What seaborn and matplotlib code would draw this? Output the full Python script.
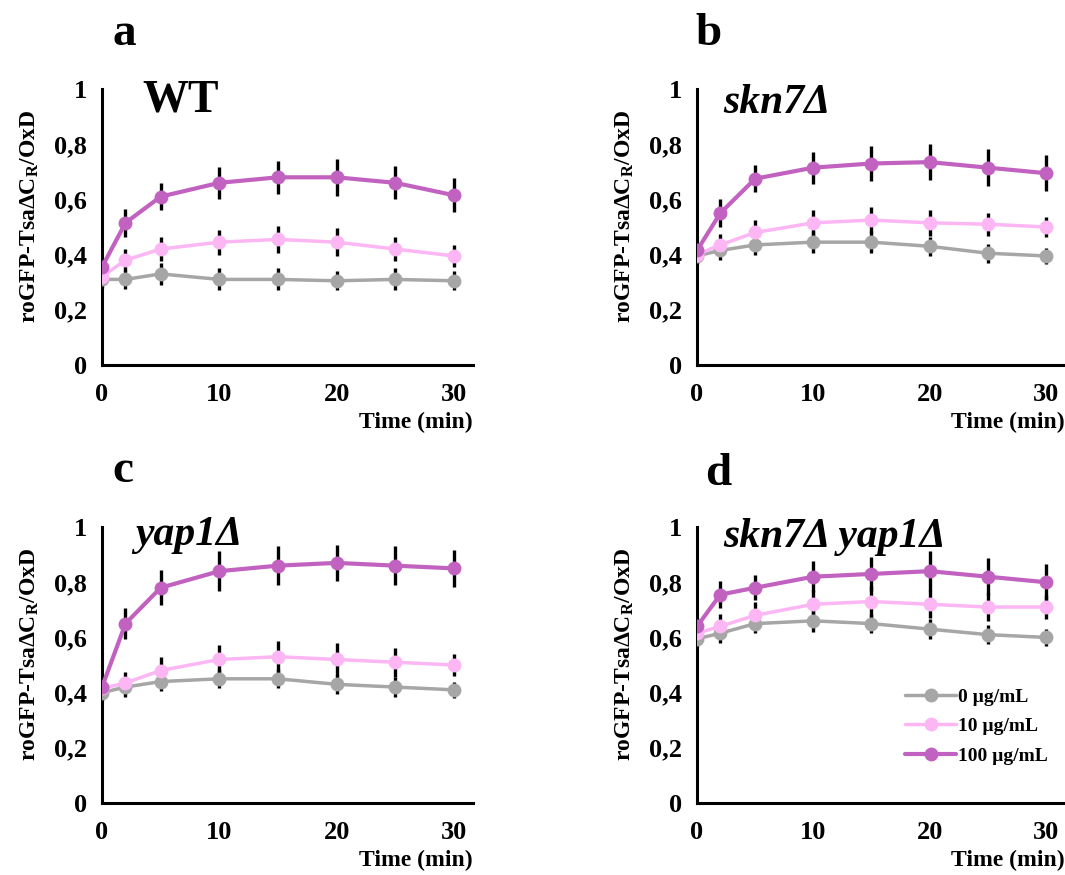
import matplotlib
matplotlib.use("Agg")
import matplotlib.pyplot as plt
import seaborn as sns
import pandas as pd

# Tiempos (min)
times = [0, 2, 5, 10, 15, 20, 25, 30]
doses = ["0 µg/mL", "10 µg/mL", "100 µg/mL"]
colors = ["#a6a6a6", "#fbb6f3", "#c262c0"]

# WT
wt_mean = [
    [0.31, 0.31, 0.33, 0.31, 0.31, 0.305, 0.31, 0.305],
    [0.32, 0.38, 0.42, 0.445, 0.455, 0.445, 0.42, 0.395],
    [0.355, 0.515, 0.61, 0.66, 0.68, 0.68, 0.66, 0.615],
]
wt_err = [
    [0.03, 0.035, 0.04, 0.04, 0.04, 0.035, 0.04, 0.035],
    [0.03, 0.04, 0.045, 0.045, 0.05, 0.05, 0.045, 0.04],
    [0.03, 0.05, 0.05, 0.058, 0.06, 0.068, 0.06, 0.062],
]
# skn7Δ
skn7_mean = [
    [0.395, 0.415, 0.435, 0.445, 0.445, 0.43, 0.405, 0.395],
    [0.40, 0.435, 0.48, 0.515, 0.525, 0.515, 0.51, 0.50],
    [0.415, 0.55, 0.675, 0.715, 0.73, 0.735, 0.715, 0.695],
]
skn7_err = [
    [0.03, 0.035, 0.035, 0.04, 0.04, 0.035, 0.035, 0.03],
    [0.03, 0.04, 0.045, 0.048, 0.048, 0.046, 0.042, 0.036],
    [0.03, 0.05, 0.05, 0.058, 0.065, 0.065, 0.068, 0.066],
]
# yap1Δ
yap1_mean = [
    [0.40, 0.42, 0.44, 0.45, 0.45, 0.43, 0.42, 0.41],
    [0.415, 0.435, 0.48, 0.52, 0.53, 0.52, 0.51, 0.50],
    [0.42, 0.65, 0.78, 0.84, 0.86, 0.87, 0.86, 0.85],
]
yap1_err = [
    [0.03, 0.035, 0.035, 0.035, 0.035, 0.035, 0.035, 0.03],
    [0.03, 0.04, 0.05, 0.052, 0.058, 0.06, 0.052, 0.04],
    [0.03, 0.057, 0.063, 0.073, 0.07, 0.066, 0.07, 0.066],
]
# skn7Δ yap1Δ
double_mean = [
    [0.595, 0.615, 0.65, 0.66, 0.65, 0.63, 0.61, 0.60],
    [0.615, 0.64, 0.68, 0.72, 0.73, 0.72, 0.71, 0.71],
    [0.64, 0.755, 0.78, 0.82, 0.83, 0.84, 0.82, 0.80],
]
double_err = [
    [0.03, 0.035, 0.035, 0.04, 0.035, 0.035, 0.035, 0.03],
    [0.03, 0.045, 0.05, 0.05, 0.055, 0.05, 0.05, 0.045],
    [0.03, 0.05, 0.045, 0.057, 0.062, 0.072, 0.066, 0.066],
]

panels = [
    ("a", "WT", "normal", wt_mean, wt_err),
    ("b", "skn7Δ", "italic", skn7_mean, skn7_err),
    ("c", "yap1Δ", "italic", yap1_mean, yap1_err),
    ("d", "skn7Δ yap1Δ", "italic", double_mean, double_err),
]

sns.set_theme(style="white")
plt.rcParams["font.family"] = ["Liberation Serif", "DejaVu Serif"]
plt.rcParams["font.weight"] = "bold"
plt.rcParams["text.color"] = "black"
plt.rcParams["axes.labelcolor"] = "black"
plt.rcParams["xtick.color"] = "black"
plt.rcParams["ytick.color"] = "black"
plt.rcParams["mathtext.fontset"] = "custom"
plt.rcParams["mathtext.rm"] = "Liberation Serif:bold"
plt.rcParams["mathtext.it"] = "Liberation Serif:bold"
plt.rcParams["mathtext.bf"] = "Liberation Serif:bold"

fig = plt.figure(figsize=(10.65, 8.75), dpi=100)

# posiciones de los ejes (fracción de figura)
pos = [
    [0.0958, 0.5829, 0.348, 0.3154],
    [0.6545, 0.5829, 0.345, 0.3154],
    [0.0958, 0.0823, 0.348, 0.3154],
    [0.6545, 0.0823, 0.345, 0.3154],
]
letter_pos = [(112, 45), (695, 45), (112, 482), (705, 485)]
name_pos = [(142, 100), (723, 103), (135, 535), (723, 537)]

for i, (letter, name, style, means, errs) in enumerate(panels):
    ax = fig.add_axes(pos[i])
    for j, dose in enumerate(doses):
        df = pd.DataFrame({"time": times, "value": means[j], "err": errs[j]})
        ax.errorbar(df["time"], df["value"], yerr=df["err"], fmt="none",
                    ecolor="black", elinewidth=2.4, capsize=0, zorder=1)
    for j, dose in enumerate(doses):
        df = pd.DataFrame({"time": times, "value": means[j]})
        sns.lineplot(data=df, x="time", y="value", ax=ax, color=colors[j],
                     marker="o", markersize=10, markeredgewidth=0,
                     linewidth=3 if j == 2 else 2.5, label=dose, zorder=3 + j)

    ax.set_xlim(0, 31.6)
    ax.set_ylim(0, 1)
    ax.set_xticks([0, 10, 20, 30])
    ax.set_yticks([0, 0.2, 0.4, 0.6, 0.8, 1])
    ax.set_yticklabels(["0", "0,2", "0,4", "0,6", "0,8", "1"])
    ax.tick_params(axis="both", labelsize=19, length=6, width=2,
                   direction="out", color="black", pad=5)
    ax.tick_params(axis="x", pad=7)
    for t in ax.get_xticklabels() + ax.get_yticklabels():
        t.set_fontweight("bold")
    sns.despine(ax=ax)
    for s in ["left", "bottom"]:
        ax.spines[s].set_linewidth(2.2)
        ax.spines[s].set_color("black")
    ax.spines["left"].set_bounds(0, 1)

    ax.set_xlabel("Time (min)", fontsize=17, fontweight="bold", loc="right",
                  labelpad=4)
    ax.set_ylabel(r"roGFP-TsaΔC$_\mathregular{R}$/OxD", fontsize=17,
                  fontweight="bold")
    ax.yaxis.set_label_coords(-0.165, 0.54)

    if i == 3:
        ax.legend(loc="lower right", bbox_to_anchor=(0.975, 0.11), frameon=False,
                  fontsize=14, handlelength=2.6, handletextpad=0.1,
                  labelspacing=0.62, borderaxespad=0)
    else:
        ax.get_legend().remove()

    fs = 33 if name == "WT" else 30
    fig.text(name_pos[i][0] / 1065, 1 - name_pos[i][1] / 875, name,
             fontsize=fs, fontweight="bold", fontstyle=style,
             ha="left", va="center")
    fig.text(letter_pos[i][0] / 1065, 1 - letter_pos[i][1] / 875, letter,
             fontsize=34, fontweight="bold", ha="left", va="baseline")

fig.savefig("out.png", dpi=100, facecolor="white")
